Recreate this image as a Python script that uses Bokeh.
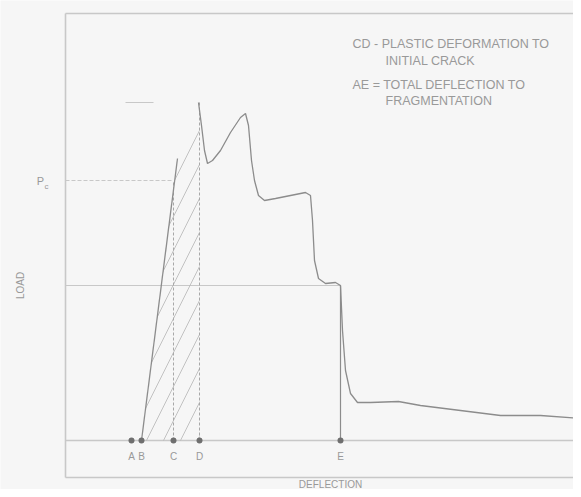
from bokeh.plotting import figure
from bokeh.models import Range1d, ColumnDataSource
from bokeh.core.properties import value
from bokeh.embed import file_html
from bokeh.resources import INLINE

# ---- data (arbitrary deflection / load units) ----
point_names = ["A", "B", "C", "D", "E"]
point_x = [6.6, 7.6, 10.8, 13.4, 27.5]

# elastic loading line B -> end of linear part
elastic_x = [7.6, 11.2]
elastic_y = [0.0, 28.2]

# post-peak load-deflection record
curve_x = [13.3, 13.6, 13.9, 14.2, 14.7, 15.5, 16.5, 17.5, 18.0, 18.3, 18.6, 18.9,
           19.3, 19.9, 21.0, 22.5, 24.0, 24.5, 24.7, 24.9, 25.3, 26.0, 27.0, 27.5,
           27.7, 28.0, 28.5, 29.2, 30.5, 33.3, 35.5, 39.5, 43.5, 47.5, 51.6]
curve_y = [33.8, 31.5, 29.0, 27.7, 28.0, 29.0, 30.8, 32.3, 32.7, 31.5, 28.0, 26.0,
           24.5, 24.0, 24.2, 24.5, 24.8, 24.5, 22.0, 18.0, 16.2, 15.7, 15.8, 15.5,
           11.0, 7.0, 4.7, 3.8, 3.8, 3.9, 3.5, 3.0, 2.5, 2.5, 2.2]

peak_load = 33.8
pc_load = 26.0
e_load = 15.5

hatch_x = [7.6, 11.2, 13.4, 13.4]
hatch_y = [0.0, 28.2, 33.8, 0.0]

notes = ["CD - PLASTIC DEFORMATION TO", "INITIAL CRACK",
         "AE = TOTAL DEFLECTION TO", "FRAGMENTATION"]
note_x = [28.7, 32.0, 28.7, 32.0]
note_y = [39.7, 38.0, 35.6, 34.0]

# chart box (deflection / load extents of the drawing area)
box_x0, box_x1 = 0.0, 52.0
box_y0, box_y1 = -3.7, 42.7

GRAY = "#8c8c8c"
FAINT = "#c8c8c8"
TXT = "#999999"
BG = "#f6f6f6"

p = figure(width=573, height=489, output_backend="svg", toolbar_location=None,
           x_range=Range1d(-6.5, 50.8), y_range=Range1d(-4.9, 44.0),
           min_border=0)
p.axis.visible = False
p.grid.visible = False
p.outline_line_color = None
p.background_fill_color = BG
p.border_fill_color = BG

# frame (left, top, bottom)
p.line([box_x0, box_x0], [box_y0, box_y1], line_color=FAINT, line_width=1.6)
p.line([box_x0, box_x1], [box_y1, box_y1], line_color=FAINT, line_width=1.6)
p.line([box_x0, box_x1], [box_y0, box_y0], line_color=FAINT, line_width=1.6)

# baseline
p.line([box_x0, box_x1], [0, 0], line_color=FAINT, line_width=1.5)

# guide lines
p.line([box_x0, 10.6], [pc_load, pc_load], line_color=FAINT, line_width=1, line_dash="4 2")
p.line([box_x0, 27.5], [e_load, e_load], line_color=FAINT, line_width=1.2)
p.line([6.0, 8.8], [peak_load, peak_load], line_color=FAINT, line_width=1)

# hatched area
p.patch(hatch_x, hatch_y, fill_color=None, line_color=None,
        hatch_pattern="/", hatch_color="#b4b4b4", hatch_scale=34, hatch_weight=0.8)

# verticals at C, D, E
p.line([point_x[2], point_x[2]], [0, pc_load], line_color="#a8a8a8", line_width=1, line_dash="3 2")
p.line([point_x[3], point_x[3]], [0, peak_load], line_color="#a8a8a8", line_width=1, line_dash="3 2")
p.line([point_x[4], point_x[4]], [0, e_load], line_color=GRAY, line_width=1.2)

# curves
p.line(elastic_x, elastic_y, line_color=GRAY, line_width=1.3)
p.line(curve_x, curve_y, line_color=GRAY, line_width=1.3)

# points on baseline
p.scatter(point_x, [0] * len(point_x), size=6, fill_color="#6f6f6f", line_color=None)

src = ColumnDataSource(dict(x=point_x, y=[-1.0] * len(point_x), t=point_names))
p.text("x", "y", text="t", source=src, text_align="center", text_baseline="top",
       text_color=TXT, text_font=value("Liberation Sans"), text_font_size="10px")

p.text(note_x, note_y, text=notes, text_align="left", text_baseline="middle",
       text_color=TXT, text_font=value("Liberation Sans"), text_font_size="12.5px")

# Pc label
p.text([-2.5], [pc_load], text=["P"], text_align="center", text_baseline="middle",
       text_color=TXT, text_font=value("Liberation Sans"), text_font_size="11px")
p.text([-1.9], [pc_load - 0.6], text=["c"], text_align="center", text_baseline="middle",
       text_color=TXT, text_font=value("Liberation Sans"), text_font_size="8px")

# axis titles
p.text([-4.5], [15.5], text=["LOAD"], angle=1.5708, text_align="center",
       text_baseline="middle", text_color=TXT, text_font=value("Liberation Sans"),
       text_font_size="10px")
p.text([26.5], [-4.4], text=["DEFLECTION"], text_align="center",
       text_baseline="middle", text_color=TXT, text_font=value("Liberation Sans"),
       text_font_size="10px")

open("out.html", "w").write(file_html(p, INLINE))
